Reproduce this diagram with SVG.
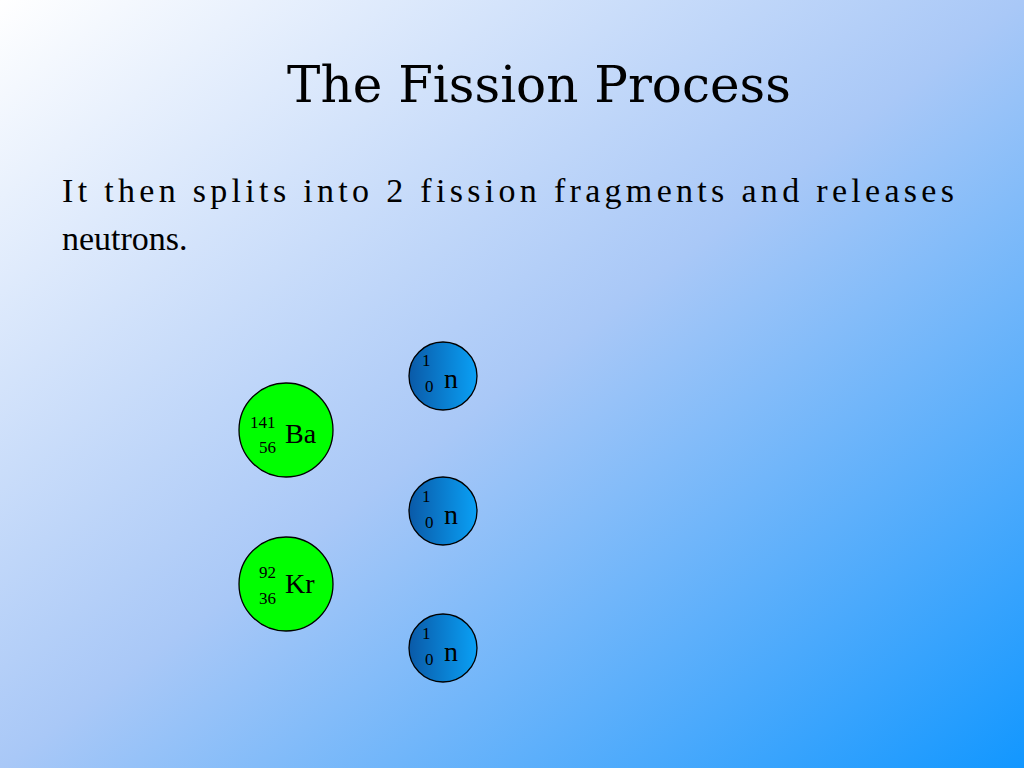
<svg xmlns="http://www.w3.org/2000/svg" width="1024" height="768" viewBox="0 0 1024 768">
<defs>
<linearGradient id="bg" x1="0" y1="0" x2="1" y2="1">
<stop offset="0" stop-color="#ffffff"/><stop offset="0.5" stop-color="#a9c8f7"/><stop offset="1" stop-color="#1297ff"/>
</linearGradient>
<linearGradient id="nb" x1="0" y1="0" x2="1" y2="0">
<stop offset="0" stop-color="#0a5aa8"/><stop offset="1" stop-color="#0aa0f5"/>
</linearGradient>
<style>
text{font-family:"Liberation Serif","DejaVu Serif",serif;fill:#000}
.fr{fill:#00ff00;stroke:#000;stroke-width:1.3}
.nu{fill:url(#nb);stroke:#000;stroke-width:1.3}
.s{font-size:17px}
.b{font-size:28px}
</style>
</defs>
<rect width="1024" height="768" fill="url(#bg)"/>
<text x="539" y="102" text-anchor="middle" style="font-family:'DejaVu Serif',serif;font-size:50px">The Fission Process</text>
<text x="62" y="202" font-size="34" textLength="892" lengthAdjust="spacing">It then splits into 2 fission fragments and releases</text>
<text x="62" y="250" font-size="34">neutrons.</text>
<g id="ba"><circle class="fr" cx="286" cy="430" r="47"/><text class="s" x="250" y="428">141</text><text class="s" x="259" y="453">56</text><text class="b" x="285" y="443">Ba</text></g>
<g id="kr"><circle class="fr" cx="286" cy="584" r="47"/><text class="s" x="259" y="578">92</text><text class="s" x="259" y="604">36</text><text class="b" x="285" y="593">Kr</text></g>
<g id="n1"><circle class="nu" cx="443" cy="376" r="34"/><text class="s" x="422" y="366">1</text><text class="s" x="425" y="392">0</text><text class="b" x="444" y="388">n</text></g>
<g id="n2"><circle class="nu" cx="443" cy="511" r="34"/><text class="s" x="422" y="502">1</text><text class="s" x="425" y="528">0</text><text class="b" x="444" y="524">n</text></g>
<g id="n3"><circle class="nu" cx="443" cy="648" r="34"/><text class="s" x="422" y="639">1</text><text class="s" x="425" y="665">0</text><text class="b" x="444" y="661">n</text></g>
<g id="connectors"></g>
</svg>
